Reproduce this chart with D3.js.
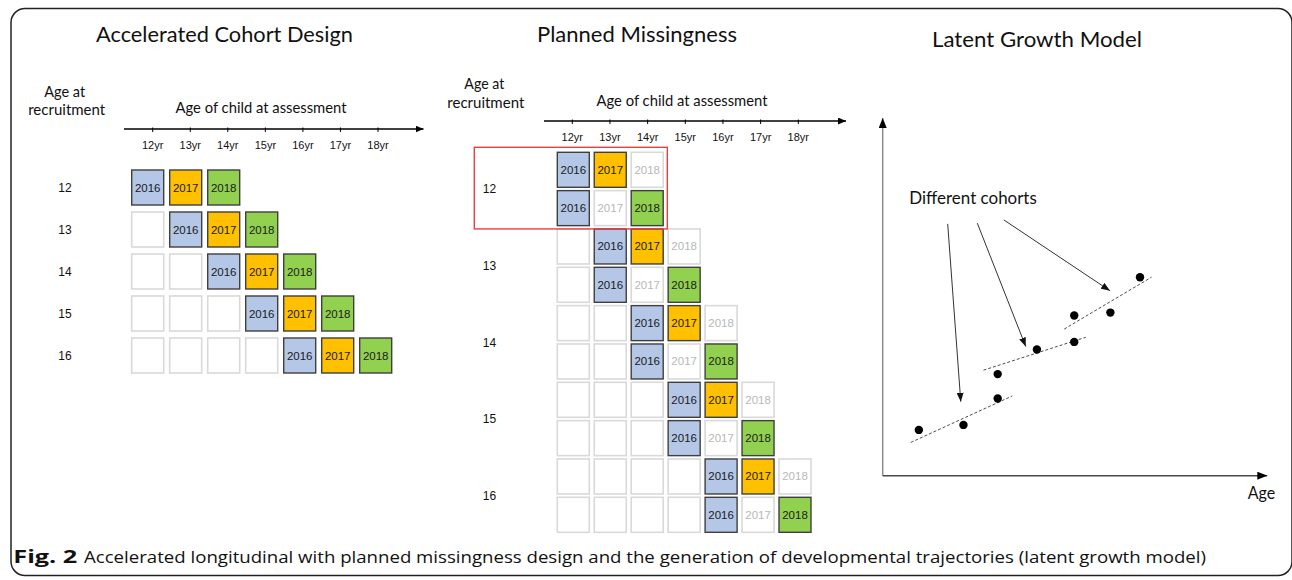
<!DOCTYPE html>
<html><head><meta charset="utf-8">
<script src="https://cdn.jsdelivr.net/npm/d3@7"></script>
<style>body{margin:0;background:#fff}svg{display:block}</style>
</head><body>
<svg id="c" width="1292" height="580"></svg>
<script>
// ---------- data ----------
const assessAges = [12, 13, 14, 15, 16, 17, 18];
const tickLabels = ["12yr", "13yr", "14yr", "15yr", "16yr", "17yr", "18yr"];
const recruitAges = [12, 13, 14, 15, 16];
const waveYears = ["2016", "2017", "2018"];
const waveColors = ["#b4c7e7", "#ffc000", "#92d050"];
// planned missingness: which waves are observed in each sub-sample
const subsampleA = [1, 1, 0];
const subsampleB = [1, 0, 1];
// latent growth model (arbitrary units 0-100)
const pointX = [9.4, 21.0, 29.9, 29.9, 40.1, 49.8, 49.8, 59.2, 66.9];
const pointY = [12.8, 14.2, 21.6, 28.4, 35.3, 37.4, 44.8, 45.6, 55.5];
const trendX1 = [7.3, 26.2, 47.2], trendY1 = [9.3, 29.5, 41.0];
const trendX2 = [33.7, 52.8, 69.9], trendY2 = [22.3, 38.7, 55.5];
const arrowX1 = [16.9, 24.6, 31.5], arrowY1 = [70.4, 70.6, 71.5];
const arrowX2 = [20.3, 37.2, 59.1], arrowY2 = [20.7, 36.1, 51.7];

// ---------- setup ----------
const svg = d3.select("#c");
const TITLE = "'Lato', 'Open Sans', sans-serif";
const CAP = "'Open Sans', sans-serif";
const ARIAL = "'Liberation Sans', Arial, sans-serif";
const defs = svg.append("defs");
function marker(id, w, h, color) {
  defs.append("marker").attr("id", id).attr("markerUnits", "userSpaceOnUse")
    .attr("viewBox", `0 0 ${w} ${h}`).attr("refX", w).attr("refY", h / 2)
    .attr("markerWidth", w).attr("markerHeight", h).attr("orient", "auto")
    .append("path").attr("d", `M0,0L${w},${h / 2}L0,${h}Z`).attr("fill", color);
}
marker("axArrow", 8, 7, "#000");
marker("bigArrow", 10, 8, "#000");
marker("ptArrow", 9, 7, "#111");

// frame
svg.append("rect").attr("x", 11).attr("y", 8.5).attr("width", 1281).attr("height", 567)
  .attr("rx", 14).attr("fill", "none").attr("stroke", "#222").attr("stroke-width", 1.5);

function txt(x, y, s, size, opts = {}) {
  const t = svg.append("text").attr("x", x).attr("y", y).text(s)
    .attr("font-family", opts.family || TITLE).attr("font-size", size)
    .attr("fill", opts.fill || "#111").attr("text-anchor", opts.anchor || "middle");
  if (opts.weight) t.attr("font-weight", opts.weight);
  if (opts.len) t.attr("textLength", opts.len).attr("lengthAdjust", "spacingAndGlyphs");
  return t;
}

// titles
txt(224.5, 42, "Accelerated Cohort Design", 22, { len: 257 });
txt(637, 42, "Planned Missingness", 22, { len: 200 });
txt(1037, 47, "Latent Growth Model", 22, { len: 210 });

function cell(g, x, y, w, h, label, color, observed) {
  g.append("rect").attr("x", x).attr("y", y).attr("width", w).attr("height", h)
    .attr("fill", observed ? color : "#fff")
    .attr("stroke", observed ? "#3f3f3f" : "#d9d9d9").attr("stroke-width", observed ? 1.4 : 1.6);
  if (label) g.append("text").attr("x", x + w / 2).attr("y", y + h / 2 + 4)
    .attr("text-anchor", "middle").attr("font-family", ARIAL).attr("font-size", 11.5)
    .attr("fill", observed ? "#1a1a1a" : "#b8b8b8").text(label);
}

// ---------- left panel: accelerated cohort ----------
{
  const g = svg.append("g");
  txt(64.7, 96.5, "Age at", 15, { len: 41 });
  txt(66.7, 115, "recruitment", 15, { len: 77 });
  txt(261, 113, "Age of child at assessment", 16, { len: 171 });
  const xT = d3.scaleLinear().domain([12, 18]).range([152.7, 378]);
  const xC = d3.scaleLinear().domain([12, 18]).range([131.7, 359.7]);
  const yC = d3.scaleLinear().domain([12, 16]).range([170, 338]);
  g.append("line").attr("x1", 124).attr("x2", 423.5).attr("y1", 129).attr("y2", 129)
    .attr("stroke", "#000").attr("stroke-width", 1.3).attr("marker-end", "url(#axArrow)");
  assessAges.forEach((a, i) => {
    g.append("line").attr("x1", xT(a)).attr("x2", xT(a)).attr("y1", 127.5).attr("y2", 132)
      .attr("stroke", "#000").attr("stroke-width", 1);
    g.append("text").attr("x", xT(a)).attr("y", 149).attr("text-anchor", "middle")
      .attr("font-family", ARIAL).attr("font-size", 11).attr("fill", "#111").text(tickLabels[i]);
  });
  recruitAges.forEach(r => {
    g.append("text").attr("x", 65).attr("y", yC(r) + 17.5 + 4.5).attr("text-anchor", "middle")
      .attr("font-family", ARIAL).attr("font-size", 12).attr("fill", "#111").text(r);
    assessAges.forEach(a => {
      if (a < r) cell(g, xC(a), yC(r), 32, 35, null, null, false);
      else if (a - r < waveYears.length) {
        const w = a - r;
        cell(g, xC(a), yC(r), 32, 35, waveYears[w], waveColors[w], true);
      }
    });
  });
}

// ---------- middle panel: planned missingness ----------
{
  const g = svg.append("g");
  txt(484.3, 89, "Age at", 15, { len: 40 });
  txt(485.8, 107.7, "recruitment", 15, { len: 77 });
  txt(682, 105.7, "Age of child at assessment", 16, { len: 171 });
  const xT = d3.scaleLinear().domain([12, 18]).range([572.3, 798.3]);
  const xC = d3.scaleLinear().domain([12, 18]).range([557.3, 779]);
  const yRow = d3.scaleLinear().domain([0, 9]).range([152.3, 497.3]);
  g.append("line").attr("x1", 544).attr("x2", 846).attr("y1", 121).attr("y2", 121)
    .attr("stroke", "#000").attr("stroke-width", 1.3).attr("marker-end", "url(#axArrow)");
  assessAges.forEach((a, i) => {
    g.append("line").attr("x1", xT(a)).attr("x2", xT(a)).attr("y1", 119.5).attr("y2", 124)
      .attr("stroke", "#000").attr("stroke-width", 1);
    g.append("text").attr("x", xT(a)).attr("y", 140.5).attr("text-anchor", "middle")
      .attr("font-family", ARIAL).attr("font-size", 11).attr("fill", "#111").text(tickLabels[i]);
  });
  recruitAges.forEach((r, gi) => {
    [subsampleA, subsampleB].forEach((pat, si) => {
      const y = yRow(gi * 2 + si);
      assessAges.forEach(a => {
        if (a < r) cell(g, xC(a), y, 32, 35, null, null, false);
        else if (a - r < waveYears.length) {
          const w = a - r;
          cell(g, xC(a), y, 32, 35, waveYears[w], waveColors[w], pat[w] === 1);
        }
      });
    });
    const yMid = (yRow(gi * 2) + yRow(gi * 2 + 1) + 35) / 2;
    g.append("text").attr("x", 489.5).attr("y", yMid + 4.3).attr("text-anchor", "middle")
      .attr("font-family", ARIAL).attr("font-size", 12).attr("fill", "#111").text(r);
  });
  // highlight box around first recruitment group
  g.append("rect").attr("x", 474.3).attr("y", yRow(0) - 5).attr("width", 193)
    .attr("height", yRow(1) + 35 - yRow(0) + 8.3)
    .attr("fill", "none").attr("stroke", "#e8403f").attr("stroke-width", 1.4);
}

// ---------- right panel: latent growth model ----------
{
  const g = svg.append("g");
  const x = d3.scaleLinear().domain([0, 100]).range([882.7, 1267.3]);
  const y = d3.scaleLinear().domain([0, 100]).range([475.7, 118]);
  g.append("line").attr("x1", x(0)).attr("x2", x(0)).attr("y1", y(0)).attr("y2", y(100))
    .attr("stroke", "#8c8c8c").attr("stroke-width", 1.5).attr("marker-end", "url(#bigArrow)");
  g.append("line").attr("x1", x(0)).attr("x2", x(100)).attr("y1", y(0)).attr("y2", y(0))
    .attr("stroke", "#4a4a4a").attr("stroke-width", 1.5).attr("marker-end", "url(#bigArrow)");
  txt(1261.5, 498.5, "Age", 17, { len: 27.5 });
  txt(909.3, 204, "Different cohorts", 17, { anchor: "start", len: 127.5 });
  trendX1.forEach((d, i) => {
    g.append("line").attr("x1", x(trendX1[i])).attr("y1", y(trendY1[i]))
      .attr("x2", x(trendX2[i])).attr("y2", y(trendY2[i]))
      .attr("stroke", "#4d4d4d").attr("stroke-width", 1).attr("stroke-dasharray", "3,2");
  });
  arrowX1.forEach((d, i) => {
    g.append("line").attr("x1", x(arrowX1[i])).attr("y1", y(arrowY1[i]))
      .attr("x2", x(arrowX2[i])).attr("y2", y(arrowY2[i]))
      .attr("stroke", "#333").attr("stroke-width", 1).attr("marker-end", "url(#ptArrow)");
  });
  g.selectAll("circle.pt").data(pointX).enter().append("circle").attr("class", "pt")
    .attr("cx", (d, i) => x(pointX[i])).attr("cy", (d, i) => y(pointY[i]))
    .attr("r", 4.2).attr("fill", "#000");
}

// ---------- caption ----------
txt(13.3, 563, "Fig. 2", 17, { family: CAP, anchor: "start", weight: "bold", len: 64 });
txt(84, 563, "Accelerated longitudinal with planned missingness design and the generation of developmental trajectories (latent growth model)", 17, { family: CAP, anchor: "start", len: 1122 });
</script>
</body></html>
